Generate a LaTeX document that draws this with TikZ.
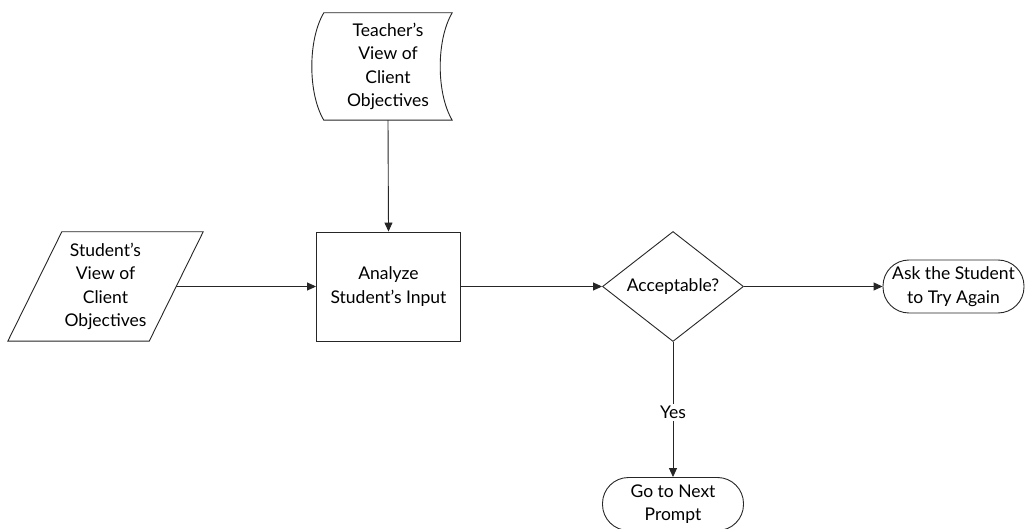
\documentclass[tikz,border=0pt]{standalone}
\usepackage{fontspec}
\setmainfont{Lato}
\usetikzlibrary{arrows.meta,shapes.geometric,shapes.misc,calc}
\begin{document}
\begin{tikzpicture}[x=1pt,y=-1pt,
  line/.style={draw=black!85, line width=0.9pt},
  arr/.style={line, -{Triangle[length=9pt,width=8pt]}},
  txt/.style={font=\fontsize{17.5}{23.5}\selectfont, align=center, inner sep=0pt},
  box/.style={txt, line, rectangle, minimum width=144pt, minimum height=109pt},
  decision/.style={txt, line, diamond, aspect=1.3, minimum width=141pt, minimum height=110pt},
  terminal/.style={txt, line, rectangle, rounded corners=26pt, minimum width=141pt, minimum height=53pt, inner sep=0pt},
  holder/.style={txt, rectangle, draw=none}
]
\useasboundingbox (0,0) rectangle (1026,529);
\clip (0,0) rectangle (1026,529);
\fill[white] (0,0) rectangle (1026,529);

% Teacher's view (stored data)
\node[holder, minimum width=128pt, minimum height=107pt] (teacher) at (388,66.5)
  {Teacher’s\\View of\\Client\\Objectives};
\draw[line] (teacher.north west) -- (teacher.north east)
  .. controls ($(teacher.north east)+(-16,27)$) and ($(teacher.south east)+(-16,-27)$) .. (teacher.south east)
  -- (teacher.south west)
  .. controls ($(teacher.south west)+(-16,-27)$) and ($(teacher.north west)+(-16,27)$) .. (teacher.north west) -- cycle;

% Student's view (parallelogram)
\node[holder, minimum width=141pt, minimum height=109pt] (student) at (105.5,286.5)
  {Student’s\\View of\\Client\\Objectives};
\draw[line] ($(student.north west)+(27,0)$) -- ($(student.north east)+(27,0)$)
  -- ($(student.south east)+(-27,0)$) -- ($(student.south west)+(-27,0)$) -- cycle;

\node[box] (analyze) at (388.5,286.5) {Analyze\\Student’s Input};
\node[decision] (acc) at (673,286.5) {Acceptable?};
\node[terminal] (ask) at (953.5,286.5) {Ask the Student\\to Try Again};
\node[terminal] (next) at (673,504) {Go to Next\\Prompt};

\draw[arr] (teacher.south) -- (analyze.north);
\draw[arr] (student.east) -- (analyze.west);
\draw[arr] (analyze.east) -- (acc.west);
\draw[arr] (acc.east) -- (ask.west);
\draw[arr] (acc.south) -- node[txt, fill=white, inner sep=2pt, pos=0.52] (yes) {Yes} (next.north);
\end{tikzpicture}
\end{document}
